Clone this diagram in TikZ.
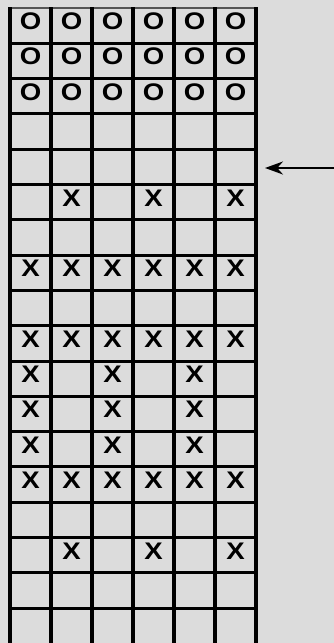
\documentclass[tikz,border=0pt]{standalone}
\usepackage{fontspec}
\newfontfamily\zellfont[FakeStretch=1.15]{Liberation Sans Bold}
\usetikzlibrary{arrows.meta}
\definecolor{bg}{RGB}{220,220,220}
\definecolor{fg}{RGB}{0,0,0}
\definecolor{mu}{RGB}{85,85,85}
\tikzset{
  every picture/.style={fg, x=1pt, y=-1pt},
  % Linien
  senk/.style={line width=3.6pt},
  quer/.style={line width=3pt},
  rand/.style={mu, line width=1.5pt},
  pfeil/.style={line width=2.2pt, -{Stealth[length=18pt,width=13pt]}},
  % Eintraege
  zeichen/.style={font=\zellfont\fontsize{24}{25}\selectfont, inner sep=0pt},
}
\begin{document}
\begin{tikzpicture}
  \def\bw{41}
  \def\bh{35.3}
  \useasboundingbox[fill=bg] (0,0) rectangle (334,643);
  % waagrechte Linien
  \draw[rand] (10,8) -- (256,8);
  \foreach \j in {1,...,17}
    \draw[quer] (10,{8+\j*\bh}) -- (256,{8+\j*\bh});
  % senkrechte Linien
  \foreach \i in {0,...,6}
    \draw[senk] ({10+\i*\bw},7) -- ({10+\i*\bw},643);
  % Eintraege: Zeile/Zeichen/Spalten
  \foreach \r/\ch/\cols in {1/O/{1,...,6}, 2/O/{1,...,6}, 3/O/{1,...,6},
      6/X/{2,4,6}, 8/X/{1,...,6}, 10/X/{1,...,6},
      11/X/{1,3,5}, 12/X/{1,3,5}, 13/X/{1,3,5},
      14/X/{1,...,6}, 16/X/{2,4,6}}
    \foreach \c in \cols
      \node[zeichen] (z\r-\c) at ({10+(\c-0.5)*\bw},{8+(\r-0.5)*\bh-4.3}) {\ch};
  % Pfeil auf Zeile 5
  \coordinate (pfeil-a) at (334,168);
  \coordinate (pfeil-b) at (265,168);
  \draw[pfeil] (pfeil-a) -- (pfeil-b);
\end{tikzpicture}
\end{document}
